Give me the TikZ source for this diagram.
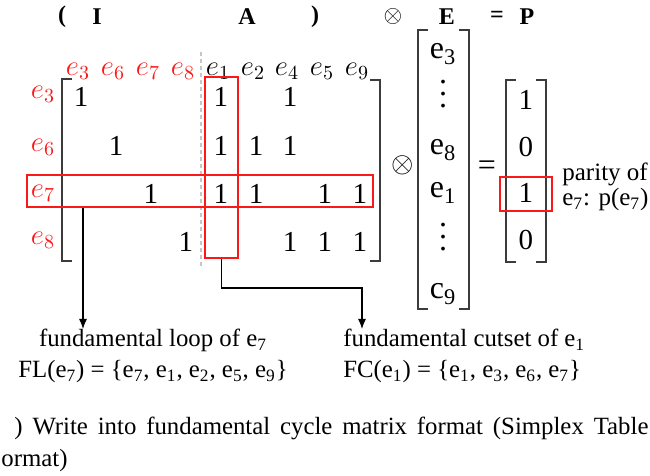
\documentclass[tikz,border=0pt]{standalone}
\usepackage{fontspec}
\setmainfont{Liberation Serif}
\usetikzlibrary{arrows.meta,positioning}
\definecolor{hlred}{RGB}{250,25,25}
\definecolor{brkgray}{RGB}{60,60,60}

\begin{document}
\begin{tikzpicture}[x=0.5pt,y=-0.5pt,
  every node/.style={inner sep=0pt,font=\fontsize{12.4}{15.5}\selectfont},
  hdr/.style={font=\bfseries\fontsize{12}{14}\selectfont},
  lab/.style={font=\fontsize{14}{16}\selectfont},
  ent/.style={font=\fontsize{14.5}{16}\selectfont},
  vec/.style={font=\fontsize{16}{18}\selectfont},
  vdot/.style={align=center,font=\fontsize{16}{6}\selectfont},
  brk/.style={draw=brkgray,line width=0.6pt},
  redbox/.style={draw=hlred,line width=0.75pt},
  arr/.style={-{Latex[length=5pt,width=4pt]},line width=0.6pt}]
  \useasboundingbox (0,0) rectangle (650,476);
  % top line
  \node[hdr] (lpar) at (62,17) {(};
  \node[hdr] (mI) at (97,17) {I};
  \node[hdr] (mA) at (247,17) {A};
  \node[hdr] (rpar) at (315,17) {)};
  \node[hdr] (otop) at (393,17) {$\otimes$};
  \node[hdr] (mE) at (447,17) {E};
  \node[hdr] (eqtop) at (497,17) {=};
  \node[hdr] (mP) at (527,17) {P};
  % column and row labels
  \foreach \s/\x in {3/81,6/116,7/151,8/186}
    \node[lab,text=hlred] (col\s) at (\x-3,71) {$e_{\s}$};
  \foreach \s/\x in {1/221,2/256,4/290,5/325,9/360}
    \node[lab] (col\s) at (\x-3,71) {$e_{\s}$};
  \foreach \s/\y in {3/94,6/147,7/193,8/240}
    \node[lab,text=hlred] (row\s) at (43,\y) {$e_{\s}$};
  % matrix entries
  \foreach \x/\y [count=\k] in {81/97,221/97,290/97,116/146,221/146,256/146,290/146,
      151/194,221/194,256/194,325/194,360/194,186/242,290/242,325/242,360/242}
    \node[ent] (one\k) at (\x,\y) {1};
  \draw[brk] (72,79) -| (62,261) -- (72,261);
  \draw[brk] (370,80) -| (380,261) -- (370,261);
  \draw[gray!45,line width=0.7pt,dash pattern=on 2pt off 1.5pt] (201,52) -- (201,268);
  \node[redbox,minimum width=16.5pt,minimum height=90.5pt] (cutcol) at (221.5,167.5) {};
  \node[redbox,minimum width=173pt,minimum height=16pt] (looprow) at (200,191) {};
  % E vector
  \node[font=\fontsize{14}{16}\selectfont] (otimes) at (403,165) {$\otimes$};
  \draw[brk] (428,30) -| (418,309) -- (428,309);
  \draw[brk] (459,30) -| (469,309) -- (459,309);
  \node[vec] (ve3) at (443,54) {e\textsubscript{3}};
  \node[vdot] (vdA) at (443,94) {.\\.\\.};
  \node[vec] (ve8) at (443,150) {e\textsubscript{8}};
  \node[vec] (ve1) at (443,193) {e\textsubscript{1}};
  \node[vdot] (vdB) at (443,237) {.\\.\\.};
  \node[vec] (vc9) at (443,294) {c\textsubscript{9}};
  % P vector
  \node[vec] (eqmid) at (487,168) {=};
  \draw[brk] (516,80) -| (506,262) -- (516,262);
  \draw[brk] (536,80) -| (546,262) -- (536,262);
  \foreach \v/\y [count=\k] in {1/100,0/147,1/193,0/240}
    \node[ent] (p\k) at (526,\y) {\v};
  \node[redbox,minimum width=26pt,minimum height=17pt] (parbox) at (526,194) {};
  \node[align=left,anchor=west,font=\fontsize{12.5}{11}\selectfont] (parity) at (562,187)
    {parity of\\e\textsubscript{7}: p(e\textsubscript{7})};
  % notes and arrows
  \node[align=center,anchor=north] (loopnote) at (153,329)
    {fundamental loop of e\textsubscript{7}\\FL(e\textsubscript{7}) = \{e\textsubscript{7}, e\textsubscript{1}, e\textsubscript{2}, e\textsubscript{5}, e\textsubscript{9}\}};
  \node[align=left,anchor=north west] (cutnote) at (343,329)
    {fundamental cutset of e\textsubscript{1}\\FC(e\textsubscript{1}) = \{e\textsubscript{1}, e\textsubscript{3}, e\textsubscript{6}, e\textsubscript{7}\}};
  \coordinate (lx) at (83,0);
  \coordinate (cx) at (362,288);
  \draw[arr] (looprow.south -| lx) -- (lx |- loopnote.north);
  \draw[arr] (cutcol.south) |- (cx) -- (cx |- cutnote.north);
  % caption
  \node[anchor=base west] (cap1) at (14,435)
    {\makebox[317pt][s]{) Write into fundamental cycle matrix format (Simplex Table}};
  \node[anchor=base west] (cap2) at (1,467) {ormat)};
\end{tikzpicture}
\end{document}
